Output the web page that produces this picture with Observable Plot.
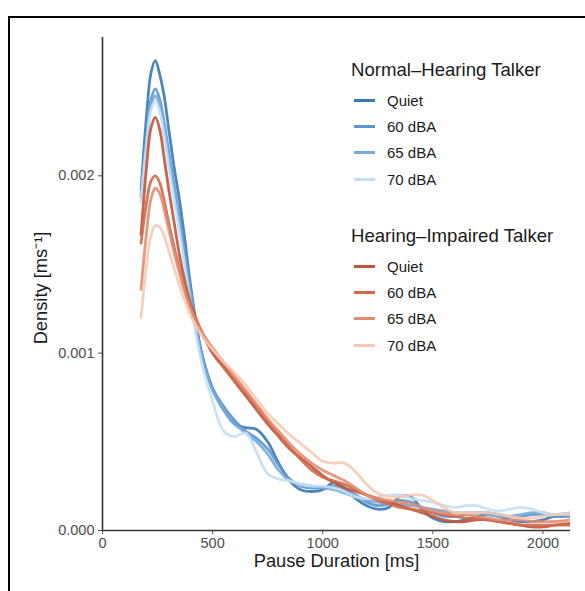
<!DOCTYPE html>
<html><head><meta charset="utf-8">
<script src="https://cdn.jsdelivr.net/npm/d3@7"></script>
<script src="https://cdn.jsdelivr.net/npm/@observablehq/plot@0.6"></script>
<style>
html,body{margin:0;padding:0;background:#fff;}
#wrap{position:relative;width:585px;height:591px;overflow:hidden;font-family:"Liberation Sans",Arial,Helvetica,sans-serif;}
#chart{position:absolute;left:0;top:0;}
#border{position:absolute;left:8px;top:16px;right:-10px;bottom:-10px;border-left:2px solid #000;border-top:2px solid #000;pointer-events:none;}
.lt{position:absolute;font-size:18.6px;line-height:20px;color:#1a1a1a;white-space:nowrap;}
.li{position:absolute;height:20px;display:flex;align-items:center;white-space:nowrap;font-size:15px;color:#1a1a1a;}
.sw{display:inline-block;width:21px;height:3px;margin-right:12px;}
</style></head>
<body>
<div id="wrap"><div id="chart"></div><div id="border"></div></div>
<script>
// Pause duration grid (ms)
const durations = [175,200,220,240,260,280,300,325,350,375,400,450,500,550,600,650,700,750,800,850,900,950,1000,1050,1100,1150,1200,1250,1300,1350,1400,1450,1500,1550,1600,1650,1700,1750,1800,1850,1900,1950,2000,2050,2125];

// Density values, in units of 10^-3 ms^-1
const nhQuiet = [1.92,2.34,2.58,2.65,2.57,2.45,2.27,2.05,1.86,1.63,1.38,1.0,0.8,0.68,0.6,0.58,0.57,0.5,0.38,0.28,0.23,0.22,0.23,0.27,0.24,0.18,0.14,0.12,0.13,0.19,0.19,0.12,0.07,0.05,0.05,0.06,0.08,0.09,0.08,0.06,0.05,0.05,0.06,0.08,0.09];
const nh60 = [1.88,2.22,2.43,2.49,2.43,2.3,2.14,1.95,1.76,1.56,1.35,1.0,0.8,0.7,0.62,0.56,0.52,0.46,0.37,0.29,0.25,0.24,0.24,0.25,0.23,0.2,0.16,0.14,0.15,0.17,0.16,0.13,0.1,0.08,0.08,0.09,0.1,0.1,0.09,0.08,0.08,0.09,0.09,0.08,0.08];
const nh65 = [1.9,2.2,2.4,2.45,2.4,2.27,2.1,1.92,1.73,1.53,1.33,0.98,0.79,0.68,0.6,0.55,0.5,0.43,0.34,0.28,0.26,0.25,0.24,0.23,0.21,0.19,0.17,0.16,0.15,0.15,0.14,0.13,0.12,0.11,0.1,0.1,0.1,0.09,0.08,0.08,0.09,0.1,0.1,0.09,0.1];
const nh70 = [1.85,2.18,2.37,2.42,2.36,2.23,2.06,1.87,1.68,1.48,1.28,0.95,0.73,0.56,0.53,0.55,0.44,0.32,0.29,0.28,0.26,0.25,0.25,0.24,0.22,0.19,0.18,0.19,0.2,0.2,0.18,0.17,0.16,0.14,0.13,0.14,0.14,0.12,0.11,0.12,0.13,0.12,0.1,0.09,0.1];
const hiQuiet = [1.67,2.05,2.27,2.33,2.26,2.1,1.93,1.74,1.55,1.4,1.28,1.12,1.0,0.92,0.84,0.76,0.68,0.6,0.53,0.46,0.41,0.36,0.31,0.27,0.24,0.22,0.2,0.18,0.16,0.14,0.12,0.1,0.08,0.06,0.05,0.05,0.06,0.06,0.05,0.04,0.03,0.02,0.02,0.03,0.04];
const hi60 = [1.62,1.85,1.97,2.0,1.96,1.86,1.74,1.6,1.47,1.35,1.26,1.12,1.02,0.93,0.85,0.78,0.7,0.62,0.54,0.47,0.4,0.34,0.3,0.28,0.26,0.23,0.2,0.17,0.15,0.13,0.12,0.11,0.1,0.09,0.08,0.07,0.07,0.06,0.05,0.04,0.03,0.03,0.03,0.03,0.03];
const hi65 = [1.36,1.68,1.87,1.93,1.9,1.81,1.7,1.57,1.45,1.34,1.25,1.12,1.03,0.95,0.87,0.79,0.71,0.63,0.56,0.49,0.43,0.38,0.34,0.31,0.28,0.24,0.2,0.18,0.17,0.16,0.15,0.13,0.11,0.1,0.09,0.09,0.08,0.07,0.06,0.06,0.06,0.05,0.05,0.05,0.06];
const hi70 = [1.2,1.5,1.66,1.72,1.71,1.66,1.58,1.48,1.38,1.29,1.21,1.1,1.02,0.95,0.89,0.82,0.74,0.66,0.6,0.54,0.49,0.44,0.39,0.38,0.38,0.33,0.26,0.21,0.19,0.19,0.2,0.2,0.17,0.13,0.1,0.1,0.1,0.1,0.09,0.08,0.07,0.07,0.08,0.09,0.09];

const conditions = ["Quiet","60 dBA","65 dBA","70 dBA"];
const groups = ["Normal\u2013Hearing Talker","Hearing\u2013Impaired Talker"];
const nhColors = ["#3a79b6","#5b97cd","#77acda","#c4dff3"];
const hiColors = ["#c2543c","#d2694d","#e18d6f","#f6cab5"];
const xTicks = [0,500,1000,1500,2000];
const yTicks = [0,0.001,0.002];

const seriesList = [
  {group:0, cond:0, vals:nhQuiet, color:nhColors[0]},
  {group:0, cond:1, vals:nh60, color:nhColors[1]},
  {group:0, cond:2, vals:nh65, color:nhColors[2]},
  {group:0, cond:3, vals:nh70, color:nhColors[3]},
  {group:1, cond:0, vals:hiQuiet, color:hiColors[0]},
  {group:1, cond:1, vals:hi60, color:hiColors[1]},
  {group:1, cond:2, vals:hi65, color:hiColors[2]},
  {group:1, cond:3, vals:hi70, color:hiColors[3]}
];
const lineMarks = seriesList.map(s => Plot.line(
  durations.map((d,i) => ({x:d, y:s.vals[i]/1000})),
  {x:"x", y:"y", stroke:s.color, strokeWidth:2.8, strokeOpacity:0.9, curve:"catmull-rom", clip:true}
));

const chart = Plot.plot({
  width:585, height:591,
  marginLeft:102, marginRight:15, marginTop:37, marginBottom:61,
  style:{fontFamily:"'Liberation Sans', Arial, Helvetica, sans-serif", background:"#fff"},
  x:{domain:[0,2125]},
  y:{domain:[0,0.00278]},
  marks:[
    ...lineMarks,
    Plot.ruleY([0], {stroke:"#333", strokeWidth:1.6}),
    Plot.ruleX([0], {stroke:"#333", strokeWidth:1.6}),
    Plot.axisX({ticks:xTicks, tickSize:4, tickPadding:3, fontSize:14.5, color:"#4d4d4d", label:null, tickFormat:d=>String(d)}),
    Plot.axisY({ticks:yTicks, tickSize:4, tickPadding:4, fontSize:14.5, color:"#4d4d4d", label:null, tickFormat:d=>d.toFixed(3)}),
    Plot.text(["Pause Duration [ms]"], {frameAnchor:"bottom", dy:36, fontSize:18.3, fill:"#1a1a1a", textAnchor:"middle"}),
    Plot.text(["Density [ms\u207B\u00B9]"], {frameAnchor:"left", dx:-61, dy:4, rotate:-90, fontSize:18.3, fill:"#1a1a1a", textAnchor:"middle"})
  ]
});
document.getElementById("chart").appendChild(chart);

// Legend (HTML)
const wrap = document.getElementById("wrap");
const titleY = [70, 236];
const rowStep = 26.4;
const firstRowOffset = 30;
groups.forEach((g, gi) => {
  const t = document.createElement("div");
  t.className = "lt";
  t.textContent = g;
  t.style.left = "351px";
  t.style.top = (titleY[gi] - 10) + "px";
  wrap.appendChild(t);
  const cols = gi === 0 ? nhColors : hiColors;
  conditions.forEach((c, ci) => {
    const r = document.createElement("div");
    r.className = "li";
    r.style.left = "354px";
    r.style.top = (titleY[gi] + firstRowOffset + ci*rowStep - 10) + "px";
    const sw = document.createElement("span");
    sw.className = "sw";
    sw.style.background = cols[ci];
    r.appendChild(sw);
    r.appendChild(document.createTextNode(c));
    wrap.appendChild(r);
  });
});
</script>
</body></html>
